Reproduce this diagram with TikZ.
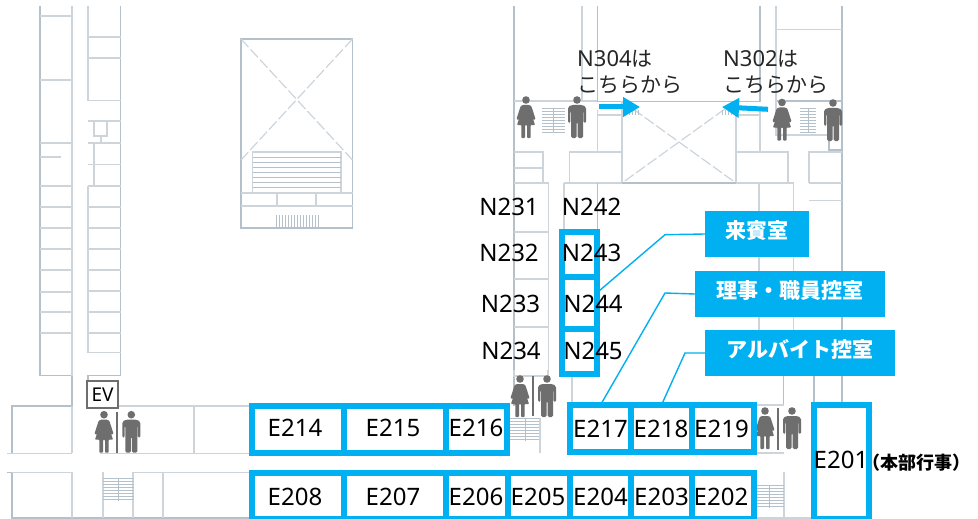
\documentclass[tikz,border=0pt]{standalone}
\usepackage{fontspec}
\setmainfont{Noto Sans}
\newfontfamily\cjk{Noto Sans CJK JP}
\usetikzlibrary{arrows.meta}
\definecolor{roomblue}{HTML}{00B0F0}
\definecolor{wallgray}{HTML}{B4C0CA}
\definecolor{thingray}{HTML}{CDD5DB}
\definecolor{figgray}{HTML}{6E6E6E}
\tikzset{
  wall/.style={draw=wallgray, line width=1.8},
  thinwall/.style={draw=thingray, line width=1.3},
  voidline/.style={draw=thingray, line width=1.2, dash pattern=on 11pt off 3pt},
  stairline/.style={draw=wallgray, line width=0.8},
  room/.style={draw=roomblue, line width=6, inner sep=0, outer sep=0},
  roomlabel/.style={font=\fontsize{24}{28}\selectfont, text=black, inner sep=0},
  hintlabel/.style={font=\fontsize{21}{26}\selectfont, text=black!85, align=left, inner sep=0},
  callout/.style={fill=roomblue, text=white, inner sep=0, text height=18, text depth=10, font=\fontsize{21}{25}\selectfont\cjk\bfseries},
  leader/.style={draw=roomblue, line width=1.4},
  bigarrow/.style={draw=roomblue, line width=5, -{Triangle[length=17pt,width=19pt]}},
  manfig/.pic={
    \fill[figgray] (0,0) circle (3.8);
    \fill[figgray, rounded corners=1.5] (-9,23)--(-9,7)--(-5.5,5)--(5.5,5)--(9,7)--(9,23)--(6.6,23)--(6.6,11)--(6,11)--(6,38)--(0.5,38)--(0.5,22)--(-0.5,22)--(-0.5,38)--(-6,38)--(-6,11)--(-6.6,11)--(-6.6,23)--cycle;
  },
  womanfig/.pic={
    \fill[figgray] (0,0) circle (3.8);
    \fill[figgray, rounded corners=0.8] (-3.5,5)--(3.5,5)--(5.5,6.5)--(9.5,19)--(7.6,20)--(5.2,13)--(9,25)--(4.6,25)--(4.6,38)--(1,38)--(1,25)--(-1,25)--(-1,38)--(-4.6,38)--(-4.6,25)--(-9,25)--(-5.2,13)--(-7.6,20)--(-9.5,19)--(-5.5,6.5)--cycle;
  }
}
\begin{document}
\begin{tikzpicture}[x=1pt, y=-1pt]
\useasboundingbox[fill=white] (0,0) rectangle (978,519);
% Left wing:
\draw[wall] (40,6)--(40,375.5)--(72,375.5)--(72,406)--(12,406)--(12,453.5)--(7,453.5);
\draw[wall] (120.5,6)--(120.5,375.5)--(88,375.5)--(88,381);
\draw[thinwall] (72,6)--(72,375.5);
\draw[thinwall] (88,6)--(88,100.5)--(120.5,100.5);
\draw[thinwall] (88,37)--(120.5,37) (88,58)--(120.5,58);
\draw[thinwall] (40,16)--(72,16) (40,80)--(72,80) (40,143)--(72,143) (40,157)--(61,157);
\draw[thinwall] (40,186)--(72,186) (40,207)--(72,207) (40,228)--(72,228) (40,249)--(72,249);
\draw[thinwall] (40,270)--(72,270) (40,292)--(72,292) (40,312)--(72,312) (40,333)--(72,333);
\draw[thinwall] (88,121)--(120.5,121) (88,143)--(120.5,143) (88,164.5)--(120.5,164.5) (88,186)--(120.5,186);
\draw[thinwall] (94,143)--(94,186) (94,121) rectangle (107,136) (101,136)--(101,143);
\draw[thinwall] (88,186)--(88,352.5)--(120.5,352.5);
\draw[thinwall] (88,207)--(120.5,207) (88,228)--(120.5,228) (88,249)--(120.5,249);
\draw[thinwall] (88,270)--(120.5,270) (88,291)--(120.5,291) (88,312)--(120.5,312) (88,333)--(120.5,333);
% Corridors:
\draw[thinwall] (118,406)--(250,406) (194,406)--(194,453) (72,406)--(72,453);
\draw[thinwall] (7,453.5)--(72,453.5) (100,453.5)--(250,453.5);
\draw[wall] (7,472.5)--(12,472.5)--(12,518)--(250,518);
\draw[thinwall] (12,472.5)--(72,472.5)--(72,518) (103,472)--(103,518) (133,472)--(133,518) (163,472)--(163,518) (133,472.5)--(250,472.5);
\foreach \ylevel in {478,481,...,501} {\draw[stairline] (103,\ylevel)--(134,\ylevel);}
\draw[stairline] (118,478)--(118,501);
% Atrium:
\draw[wall] (241,39) rectangle (352.5,228);
\draw[voidline] (241,39)--(352.5,160) (352.5,39)--(241,160);
\fill[white] (252.5,152) rectangle (341,193);
\draw[thinwall] (252.5,193)--(252.5,152)--(341,152)--(341,193);
\foreach \ylevel in {157,162,...,192} {\draw[stairline] (252.5,\ylevel)--(341,\ylevel);}
\draw[thinwall] (241,193)--(352.5,193) (241,206)--(352.5,206) (277,193)--(277,206) (316,193)--(316,206);
\foreach \xlevel in {276,279,...,318} {\draw[stairline] (\xlevel,215)--(\xlevel,228);}
% North wing:
\draw[wall] (514,6)--(514,406);
\draw[thinwall] (582,6)--(582,101) (514,101)--(597,101);
\draw[wall] (597.5,6)--(597.5,101.5)--(760,101.5)--(760,6);
\draw[wall] (776,101)--(842,101) (842,6)--(842,404);
\draw[thinwall] (776,6)--(776,135)--(830,135) (776,29.5)--(842,29.5);
\draw[wall] (829,135)--(829,150)--(842,150);
\draw[thinwall] (622,101)--(622,183) (736,101)--(736,183);
\draw[voidline] (622,101)--(736,183) (736,101)--(622,183);
\draw[wall] (597.5,183)--(760,183);
\draw[thinwall] (597.5,110)--(597.5,152) (760,110)--(760,152);
\draw[thinwall] (569.5,183)--(569.5,152)--(622,152) (736,152)--(788,152)--(788,183);
\draw[thinwall] (597,115)--(622,115) (736,115)--(760,115);
\foreach \xlevel in {626,629,...,638} {\draw[stairline] (\xlevel,110)--(\xlevel,115);}
\foreach \xlevel in {722,725,...,734} {\draw[stairline] (\xlevel,110)--(\xlevel,115);}
\draw[thinwall] (514,152)--(543,152)--(543,183) (514,168)--(543,168);
\draw[thinwall] (514,183)--(548.5,183)--(548.5,376) (564,183)--(622,183);
\draw[thinwall] (514,232)--(548.5,232) (514,279)--(548.5,279) (514,327)--(548.5,327);
\draw[thinwall] (564,183)--(564,232);
\draw[wall] (597.5,183)--(597.5,232);
\draw[thinwall] (572,375)--(572,405);
\draw[thinwall] (736,183)--(794,183) (759,183)--(759,331) (793.7,183)--(793.7,331);
\draw[thinwall] (809,183)--(809,152)--(842,152) (809,183)--(842,183) (809,200.5)--(842,200.5);
\draw[wall] (783.5,376)--(783.5,405) (814,376)--(814,405);
\draw[thinwall] (757,405)--(783.5,405) (757,453)--(784,453) (784,472)--(784,518) (757,518)--(811,518);
% Stairs by the toilets:
\foreach \ylevel in {108,111,...,133} {\draw[stairline] (542,\ylevel)--(565,\ylevel);}
\draw[stairline] (553,108)--(553,133);
\foreach \ylevel in {108,111,...,133} {\draw[stairline] (800,\ylevel)--(816,\ylevel);}
\draw[stairline] (808,108)--(808,133);
\foreach \ylevel in {418,421,...,441} {\draw[stairline] (510,\ylevel)--(540,\ylevel);}
\draw[stairline] (525,418)--(525,441);
\draw[thinwall] (540,418)--(540,453) (514,370)--(514,376)--(548,376)--(548,370);
\foreach \ylevel in {485,488,...,508} {\draw[stairline] (757,\ylevel)--(784,\ylevel);}
\draw[stairline] (769,485)--(769,508);
% Toilets:
\pic at (104,414.7) {womanfig};
\pic at (131.3,414.7) {manfig};
\draw[figgray, line width=1.8] (117,412)--(117,453);
\pic at (526,100) {womanfig};
\pic at (577,100) {manfig};
\pic at (782,102.5) {womanfig};
\pic at (833,103) {manfig};
\pic at (520,379) {womanfig};
\pic at (547,379) {manfig};
\draw[figgray, line width=1.8] (533,376)--(533,416);
\pic at (765,411) {womanfig};
\pic at (792,411) {manfig};
\draw[figgray, line width=1.8] (778,408)--(778,450);
\node[draw=figgray, line width=2, fill=white, minimum width=31, minimum height=27, inner sep=0, font=\fontsize{19}{22}\selectfont] (ev) at (102.5,394.5) {EV};
% Rooms:
\node[room, minimum width=92, minimum height=47] (e214) at (298,429.5) {};
\node[room, minimum width=102, minimum height=47] (e215) at (395,429.5) {};
\node[room, minimum width=61, minimum height=47] (e216) at (476.5,429.5) {};
\node[room, minimum width=61, minimum height=47] (e217) at (600.5,428.5) {};
\node[room, minimum width=61, minimum height=47] (e218) at (661.5,428.5) {};
\node[room, minimum width=62, minimum height=47] (e219) at (723,428.5) {};
\node[room, minimum width=92, minimum height=45.6] (e208) at (298,495.8) {};
\node[room, minimum width=102, minimum height=45.6] (e207) at (395,495.8) {};
\node[room, minimum width=62, minimum height=45.6] (e206) at (477,495.8) {};
\node[room, minimum width=62, minimum height=45.6] (e205) at (539,495.8) {};
\node[room, minimum width=61, minimum height=45.6] (e204) at (600.5,495.8) {};
\node[room, minimum width=61, minimum height=45.6] (e203) at (661.5,495.8) {};
\node[room, minimum width=62, minimum height=45.6] (e202) at (723,495.8) {};
\node[room, minimum width=55, minimum height=113.6] (e201) at (841.5,461.8) {};
\node[room, minimum width=35, minimum height=44.5] (n243) at (579.5,254.3) {};
\node[room, minimum width=35, minimum height=52.5] (n244) at (579.5,302.8) {};
\node[room, minimum width=35, minimum height=45] (n245) at (579.5,351.5) {};
% Room names:
\node[roomlabel] (le214) at (295,428.3) {E214};
\node[roomlabel] (le215) at (393,428.3) {E215};
\node[roomlabel] (le216) at (476,428.3) {E216};
\node[roomlabel] (le217) at (600.5,429) {E217};
\node[roomlabel] (le218) at (661,429) {E218};
\node[roomlabel] (le219) at (721.5,429) {E219};
\node[roomlabel] (le208) at (295,496.7) {E208};
\node[roomlabel] (le207) at (393,496.7) {E207};
\node[roomlabel] (le206) at (476,496.7) {E206};
\node[roomlabel] (le205) at (538,496.7) {E205};
\node[roomlabel] (le204) at (600.5,496.7) {E204};
\node[roomlabel] (le203) at (661.5,496.7) {E203};
\node[roomlabel] (le202) at (721,496.7) {E202};
\node[roomlabel] (le201) at (841,460) {E201};
\node[inner sep=0, text=black, font=\fontsize{18}{20}\selectfont\cjk\bfseries] (event) at (916,462.5) {（本部行事）};
\node[roomlabel] (ln231) at (509,206.7) {N231};
\node[roomlabel] (ln232) at (509,253) {N232};
\node[roomlabel] (ln233) at (510.5,304) {N233};
\node[roomlabel] (ln234) at (511,350.7) {N234};
\node[roomlabel] (ln242) at (591.7,206.7) {N242};
\node[roomlabel] (ln243) at (591.7,253) {N243};
\node[roomlabel] (ln244) at (593,304) {N244};
\node[roomlabel] (ln245) at (593,350.7) {N245};
% Callouts:
\node[callout, minimum width=104, minimum height=46] (guest) at (757,234) {来賓室};
\node[callout, minimum width=190, minimum height=46] (staff) at (790,294) {理事・職員控室};
\node[callout, minimum width=190, minimum height=46] (parttime) at (800,353) {アルバイト控室};
\coordinate (guestbend) at (665,234.7);
\coordinate (staffbend) at (665,293);
\coordinate (partbend) at (685,353);
\draw[leader] (guest.west)--(guestbend)--(n244.30);
\draw[leader] (staff.west)--(staffbend)--(e217.north);
\draw[leader] (parttime.west)--(partbend)--(e218.north);
% Hints:
\node[hintlabel, anchor=north west] (hint304) at (577,50.5) {\fontsize{22}{26}\selectfont N304{\cjk\fontsize{21}{26}\selectfont は}\\{\cjk\fontsize{21}{26}\selectfont こちらから}};
\node[hintlabel, anchor=north west] (hint302) at (723,50.5) {\fontsize{22}{26}\selectfont N302{\cjk\fontsize{21}{26}\selectfont は}\\{\cjk\fontsize{21}{26}\selectfont こちらから}};
\coordinate (arrowa) at (599,107);
\coordinate (arrowb) at (640,107);
\coordinate (arrowc) at (768,109.3);
\coordinate (arrowd) at (722,107);
\draw[bigarrow] (arrowa)--(arrowb);
\draw[bigarrow] (arrowc)--(arrowd);
\end{tikzpicture}
\end{document}
